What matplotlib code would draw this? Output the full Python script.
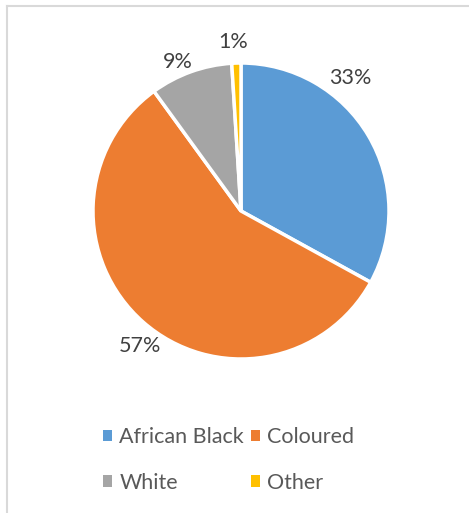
import numpy as np
import matplotlib.pyplot as plt
from matplotlib.patches import Patch
from matplotlib.lines import Line2D

# data
categories = ['African Black', 'Coloured', 'White', 'Other']
values = [33, 57, 9, 1]
colors = ['#5B9BD5', '#ED7D31', '#A5A5A5', '#FFC000']
# label offsets (in units of pie radius), one per slice
label_pos = [(0.74, 0.90), (-0.68, -0.91), (-0.43, 1.01), (-0.05, 1.14)]

plt.rcParams['font.family'] = ['Lato', 'DejaVu Sans']

fig = plt.figure(figsize=(4.69, 5.13), dpi=100)
ax = fig.add_axes([0, 0, 1, 1])
ax.set_xlim(0, 469)
ax.set_ylim(513, 0)
ax.axis('off')

# chart border (only top and left visible in crop)
fig.add_artist(Line2D([7 / 469, 1], [1 - 5.5 / 513, 1 - 5.5 / 513], color='#D9D9D9', lw=1.5))
fig.add_artist(Line2D([7 / 469, 7 / 469], [0, 1 - 5.5 / 513], color='#D9D9D9', lw=1.5))

# pie axes: center (241, 211), radius 148 px
cx, cy, r = 241, 211, 148
pax = fig.add_axes([(cx - r) / 469, 1 - (cy + r) / 513, 2 * r / 469, 2 * r / 513])
wedges, _ = pax.pie(values, colors=colors, startangle=90, counterclock=False,
                    radius=1, wedgeprops=dict(edgecolor='white', linewidth=2.5))
pax.set_xlim(-1, 1)
pax.set_ylim(-1, 1)
pax.set_aspect('auto')

for v, (lx, ly) in zip(values, label_pos):
    pax.text(lx, ly, f'{v}%', ha='center', va='center', fontsize=15.5,
             color='#404040', clip_on=False)

# row-major order for a 2-column legend
order = [0, 2, 1, 3]
handles = [Patch(facecolor=colors[i], edgecolor='none') for i in order]
labels = [categories[i] for i in order]
fig.legend(handles, labels, loc='center', bbox_to_anchor=(0.487, 1 - 460 / 513),
           ncol=2, frameon=False, fontsize=15.5, labelcolor='#595959',
           handlelength=0.45, handleheight=0.45, handletextpad=0.32,
           columnspacing=0.31, labelspacing=1.2)

fig.savefig('out.png', dpi=100)
